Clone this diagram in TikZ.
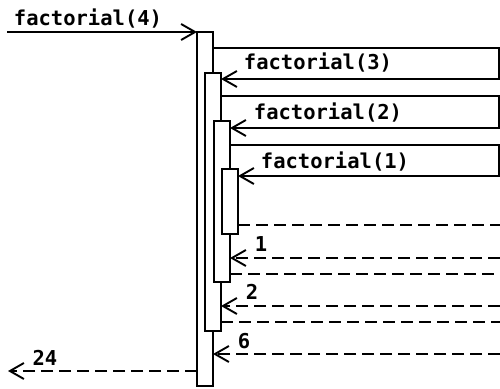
\documentclass[tikz,border=0pt]{standalone}
\usepackage{fontspec}
\newfontfamily\lblfont{DejaVu Sans Mono}
\usetikzlibrary{arrows.meta}
\begin{document}
\begin{tikzpicture}[x=1pt,y=-1pt,
  every node/.style={inner sep=0pt,outer sep=0pt},
  act/.style={draw,fill=white,line width=1.9pt,minimum width=16pt,rectangle},
  tip/.style={-{Straight Barb[length=14pt,width=16pt,line width=1.9pt]}},
  call/.style={line width=1.9pt,line join=miter},
  ret/.style={line width=1.9pt,dash pattern=on 12pt off 6pt},
  lbl/.style={font=\lblfont\bfseries\fontsize{20.5}{20.5}\selectfont,anchor=base}]
\useasboundingbox (0,0) rectangle (500,388);
% activation boxes
\node[act,minimum height=354pt] (b0) at (205,209) {};
\node[act,minimum height=258pt] (b1) at (213,202) {};
\node[act,minimum height=161pt] (b2) at (222,201.5) {};
\node[act,minimum height=65pt]  (b3) at (230,201.5) {};
% coordinates at the free ends
\coordinate (s4) at (7,32);
\coordinate (c1a) at (499,48);  \coordinate (c1b) at (499,79);
\coordinate (c2a) at (499,96);  \coordinate (c2b) at (499,128);
\coordinate (c3a) at (499,145); \coordinate (c3b) at (499,176);
\coordinate (r3) at (500,225);
\coordinate (r1) at (500,258);
\coordinate (r2a) at (500,274);
\coordinate (r2) at (500,306);
\coordinate (r1a) at (500,322);
\coordinate (r0) at (500,354);
\coordinate (e24) at (8,371);
% calls
\draw[call,tip] (s4) -- (s4 -| b0.west);
\draw[call,tip] (c1a -| b0.east) -- (c1a) -- (c1b) -- (c1b -| b1.east);
\draw[call,tip] (c2a -| b1.east) -- (c2a) -- (c2b) -- (c2b -| b2.east);
\draw[call,tip] (c3a -| b2.east) -- (c3a) -- (c3b) -- (c3b -| b3.east);
% returns
\draw[ret] (r3 -| b3.east) -- (r3);
\draw[ret,tip] (r1) -- (r1 -| b2.east);
\draw[ret] (r2a -| b2.east) -- (r2a);
\draw[ret,tip] (r2) -- (r2 -| b1.east);
\draw[ret] (r1a -| b1.east) -- (r1a);
\draw[ret,tip] (r0) -- (r0 -| b0.east);
\draw[ret,tip] (e24 -| b0.west) -- (e24);
% labels
\node[lbl] (l4) at (88,25) {factorial(4)};
\node[lbl] (l3) at (318,69) {factorial(3)};
\node[lbl] (l2) at (328,119) {factorial(2)};
\node[lbl] (l1) at (335,168) {factorial(1)};
\node[lbl] (v1) at (261,251) {1};
\node[lbl] (v2) at (252,299) {2};
\node[lbl] (v6) at (244,348) {6};
\node[lbl] (v24) at (45,365) {24};
\end{tikzpicture}
\end{document}
